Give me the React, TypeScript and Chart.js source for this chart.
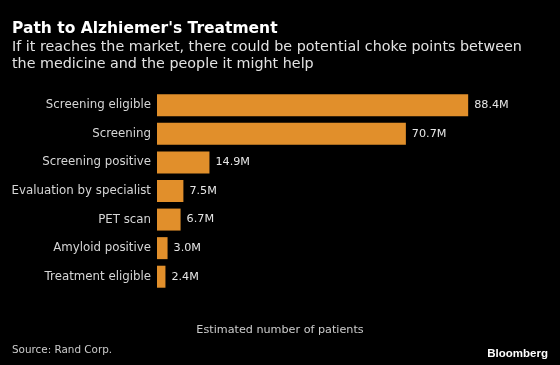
import React, { useEffect, useRef } from "react";
import { Chart, registerables } from "chart.js";

Chart.register(...registerables);

const categories = [
  "Screening eligible",
  "Screening",
  "Screening positive",
  "Evaluation by specialist",
  "PET scan",
  "Amyloid positive",
  "Treatment eligible",
];
const patientsMillions = [88.4, 70.7, 14.9, 7.5, 6.7, 3.0, 2.4];
const valueLabels = ["88.4M", "70.7M", "14.9M", "7.5M", "6.7M", "3.0M", "2.4M"];

const titleText = "Path to Alzhiemer's Treatment";
const subtitleLines = [
  "If it reaches the market, there could be potential choke points between",
  "the medicine and the people it might help",
];
const xAxisTitle = "Estimated number of patients";
const sourceText = "Source: Rand Corp.";
const brandText = "Bloomberg";

const FONT = "'DejaVu Sans', sans-serif";
const BRAND_FONT = "'Liberation Sans', Arial, sans-serif";

const textPlugin = {
  id: "textPlugin",
  afterDatasetsDraw(chart: any) {
    const { ctx } = chart;
    const meta = chart.getDatasetMeta(0);
    ctx.save();
    ctx.font = `11.2px ${FONT}`;
    ctx.fillStyle = "#e6e6e6";
    ctx.textBaseline = "middle";
    ctx.textAlign = "left";
    meta.data.forEach((bar: any, i: number) => {
      ctx.fillText(valueLabels[i], bar.x + 6, bar.y);
    });
    ctx.restore();
  },
  afterDraw(chart: any) {
    const { ctx } = chart;
    ctx.save();
    ctx.textAlign = "left";
    ctx.textBaseline = "alphabetic";
    ctx.fillStyle = "#ffffff";
    ctx.font = `bold 15.5px ${FONT}`;
    ctx.fillText(titleText, 12, 32.7);
    ctx.fillStyle = "#e2e2e2";
    ctx.font = `14.3px ${FONT}`;
    ctx.fillText(subtitleLines[0], 12, 50.7);
    ctx.fillText(subtitleLines[1], 12, 67.5);
    ctx.fillStyle = "#cccccc";
    ctx.font = `11.2px ${FONT}`;
    ctx.textAlign = "center";
    ctx.fillText(xAxisTitle, 280, 333);
    ctx.textAlign = "left";
    ctx.font = `10.4px ${FONT}`;
    ctx.fillText(sourceText, 12, 353.3);
    ctx.fillStyle = "#ffffff";
    ctx.font = `bold 11.5px ${BRAND_FONT}`;
    ctx.textAlign = "right";
    ctx.fillText(brandText, 548, 357.3);
    ctx.restore();
  },
};

export default function App() {
  const ref = useRef<HTMLCanvasElement | null>(null);
  useEffect(() => {
    document.body.style.background = "#000";
    const chart = new Chart(ref.current as HTMLCanvasElement, {
      type: "bar",
      data: {
        labels: categories,
        datasets: [
          {
            data: patientsMillions,
            backgroundColor: "#e18f2b",
            borderWidth: 0,
            barPercentage: 0.77,
            categoryPercentage: 1,
          },
        ],
      },
      options: {
        indexAxis: "y",
        responsive: false,
        animation: false,
        layout: { padding: { top: 91, left: 12, right: 51, bottom: 29 } },
        plugins: {
          legend: { display: false },
          tooltip: { enabled: false },
          title: { display: false },
        },
        scales: {
          y: {
            grid: { display: false, drawTicks: false },
            border: { display: false },
            ticks: {
              color: "#d6d6d6",
              font: { family: FONT, size: 11.8 },
              padding: 6,
            },
            afterFit(scale: any) {
              scale.width = 145;
            },
          },
          x: {
            min: 0,
            max: 100,
            grid: { display: false, drawTicks: false },
            border: { display: false },
            ticks: { display: false },
            afterFit(scale: any) {
              scale.height = 45;
            },
          },
        },
      },
      plugins: [textPlugin],
    });
    return () => chart.destroy();
  }, []);
  return (
    <div style={{ position: "absolute", left: 0, top: 0, width: 560, height: 365, background: "#000" }}>
      <canvas ref={ref} width={560} height={365} />
    </div>
  );
}
